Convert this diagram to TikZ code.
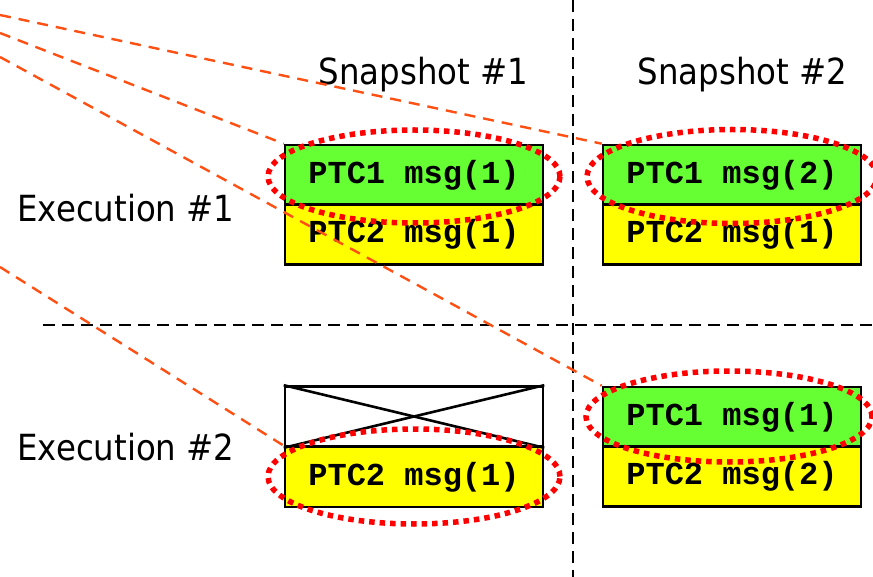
\documentclass[tikz,border=0pt]{standalone}
\usepackage{fontspec}
\newfontfamily\labelfont{DejaVu Sans}[FakeStretch=0.9]
\newfontfamily\codefont{Liberation Mono}
\usetikzlibrary{shapes.geometric}
\definecolor{boxgreen}{RGB}{102,255,51}
\definecolor{boxyellow}{RGB}{255,255,0}
\definecolor{linkorange}{RGB}{255,80,20}
\tikzset{
  row/.style={draw=black, line width=2.6pt, minimum width=258pt, minimum height=60pt,
    inner sep=0pt, font=\codefont\bfseries\fontsize{32}{34}\selectfont},
  grn/.style={row, fill=boxgreen},
  ylw/.style={row, fill=boxyellow},
  lbl/.style={font=\labelfont\fontsize{36}{40}\selectfont, anchor=base, inner sep=0pt},
  divider/.style={draw=black, line width=2.4pt, dash pattern=on 12pt off 7pt},
  link/.style={draw=linkorange, line width=2.4pt, dash pattern=on 11pt off 8pt},
  focus/.style={draw=red, line width=5.5pt, dash pattern=on 5.5pt off 5pt}
}
\begin{document}
\begin{tikzpicture}[x=1pt, y=-1pt]
\useasboundingbox (0,0) rectangle (873,577);
% dividers
\coordinate (vtop) at (573,0);
\coordinate (vbot) at (573,577);
\coordinate (hl) at (43,325);
\coordinate (hr) at (873,325);
\draw[divider] (vtop) -- (vbot);
\draw[divider] (hl) -- (hr);
% labels
\node[lbl] (snap1) at (423.5,85) {Snapshot \#1};
\node[lbl] (snap2) at (742.5,85) {Snapshot \#2};
\node[lbl] (exec1) at (126,222) {Execution \#1};
\node[lbl] (exec2) at (126,460) {Execution \#2};
% boxes
\node[grn] (s1e1a) at (414,175) {PTC1 msg(1)};
\node[ylw] (s1e1b) at (414,234.5) {PTC2 msg(1)};
\node[grn] (s2e1a) at (732,175) {PTC1 msg(2)};
\node[ylw] (s2e1b) at (732,234.5) {PTC2 msg(1)};
\node[row, fill=white] (s1e2a) at (414,416.5) {};
\node[ylw] (s1e2b) at (414,477) {PTC2 msg(1)};
\node[grn] (s2e2a) at (732,417) {PTC1 msg(1)};
\node[ylw] (s2e2b) at (732,476.5) {PTC2 msg(2)};
\draw[line width=2.6pt] (s1e2a.north west) -- (s1e2a.south east);
\draw[line width=2.6pt] (s1e2a.south west) -- (s1e2a.north east);
% focus ellipses
\draw[focus] ([yshift=-1.5pt]s1e1a.center) ellipse [x radius=146pt, y radius=46.5pt];
\draw[focus] ([yshift=-1.5pt]s2e1a.center) ellipse [x radius=145pt, y radius=47pt];
\draw[focus] ([yshift=0.5pt]s1e2b.center) ellipse [x radius=146pt, y radius=47.5pt];
\draw[focus] ([xshift=-3pt,yshift=0.5pt]s2e2a.center) ellipse [x radius=143pt, y radius=45.5pt];
% links
\coordinate (o1) at (0,15);
\coordinate (o2) at (0,33);
\coordinate (o3) at (0,57);
\coordinate (o4) at (0,267);
\draw[link] (o1) -- (s2e1a.north west);
\draw[link] (o2) -- (s1e1a.north west);
\draw[link] (o3) -- (s2e2a.north west);
\draw[link] (o4) -- (s1e2b.north west);
\end{tikzpicture}
\end{document}
